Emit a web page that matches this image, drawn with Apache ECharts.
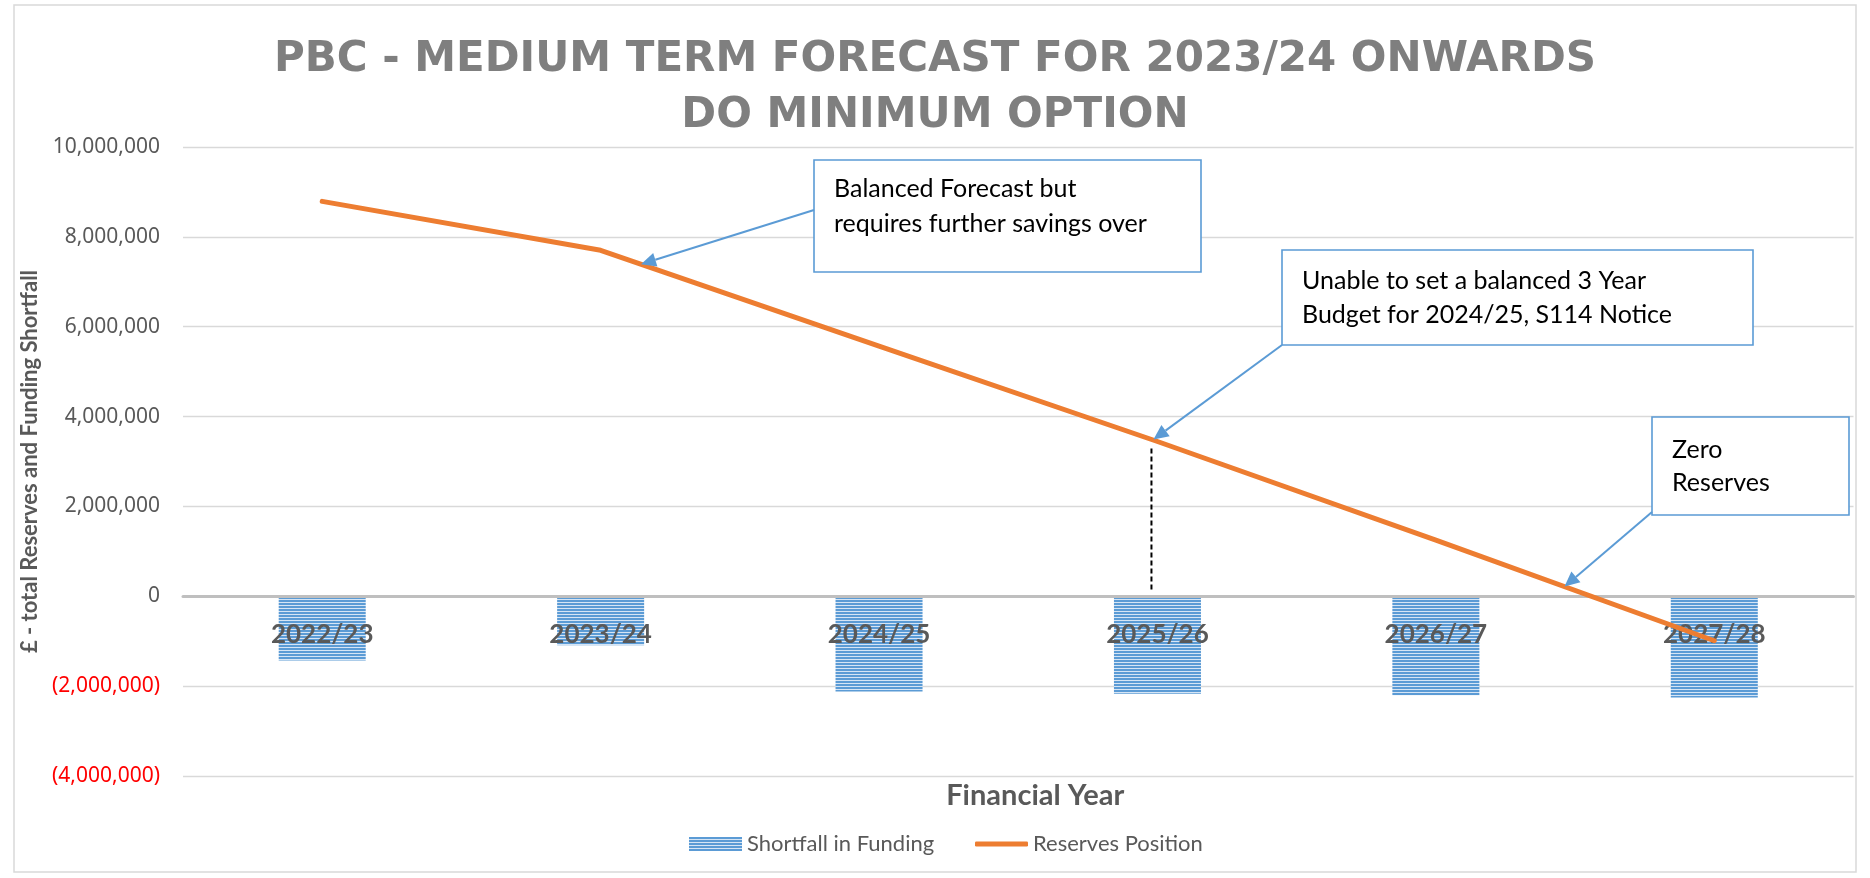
<!DOCTYPE html>
<html>
<head>
<meta charset="utf-8">
<script src="https://cdn.jsdelivr.net/npm/echarts@6/dist/echarts.min.js"></script>
<style>
html,body{margin:0;padding:0;background:#fff;}
#c{width:1870px;height:878px;}
</style>
</head>
<body>
<div id="c"></div>
<script>
// ---- data ----
const categories = ['2022/23', '2023/24', '2024/25', '2025/26', '2026/27', '2027/28'];
const shortfallInFunding = [-1430000, -1090000, -2120000, -2170000, -2200000, -2250000];
const reservesPosition = [8790000, 7700000, 5570000, 3445000, 1250000, -990000];
const yMin = -4000000, yMax = 10000000, yInterval = 2000000;
const titleLines = ['PBC - MEDIUM TERM FORECAST FOR 2023/24 ONWARDS', 'DO MINIMUM OPTION'];
const notes = [
  ['Balanced Forecast but', 'requires further savings over'],
  ['Unable to set a balanced 3 Year', 'Budget for 2024/25, S114 Notice'],
  ['Zero', 'Reserves']
];

// ---- layout ----
const W = 1870, H = 878;
const gridTop = 147, gridBottom = 102, gridLeft = 183, gridRight = 16.5;
const plotH = H - gridTop - gridBottom;
// category axis sits on the zero value line
const xAxisOffset = -((0 - yMin) / (yMax - yMin)) * plotH;

// ---- stripe pattern for bars ----
const pc = document.createElement('canvas');
pc.width = 4; pc.height = 3;
const pctx = pc.getContext('2d');
pctx.fillStyle = '#d6e5f5'; pctx.fillRect(0, 0, 4, 3);
pctx.fillStyle = '#5b9bd5'; pctx.fillRect(0, 0, 4, 2);
const stripe = { image: pc, repeat: 'repeat' };

function fmt(v) {
  const s = Math.abs(v).toLocaleString('en-US');
  return v < 0 ? '{n|(' + s + ')}' : s;
}

const legendText = { fontFamily: 'Lato', fontSize: 22, color: '#595959' };

const chart = echarts.init(document.getElementById('c'), null, { renderer: 'canvas' });
chart.setOption({
  animation: false,
  backgroundColor: '#ffffff',
  title: {
    text: titleLines.join('\n'),
    left: 'center',
    top: 27,
    textStyle: { fontFamily: 'DejaVu Sans', fontWeight: 'bold', fontSize: 42, lineHeight: 56, color: '#7f7f7f' }
  },
  legend: [
    {
      left: 689, top: 833, padding: 0,
      itemWidth: 53, itemHeight: 14,
      textStyle: legendText,
      data: [{ name: 'Shortfall in Funding', icon: 'rect' }]
    },
    {
      left: 975, top: 833, padding: 0,
      itemWidth: 53, itemHeight: 5,
      textStyle: legendText,
      data: [{ name: 'Reserves Position', icon: 'roundRect' }]
    }
  ],
  grid: {
    left: gridLeft, right: gridRight, top: gridTop, bottom: gridBottom,
    containLabel: false, outerBoundsMode: 'none'
  },
  xAxis: {
    type: 'category',
    data: categories,
    z: 3,
    offset: xAxisOffset,
    axisTick: { show: false },
    axisLine: { onZero: false, lineStyle: { color: '#bfbfbf', width: 3 } },
    axisLabel: { margin: 25, fontFamily: 'Lato', fontWeight: 'bold', fontSize: 26, color: '#595959' },
    name: 'Financial Year',
    nameLocation: 'middle',
    nameGap: 185,
    nameTextStyle: { fontFamily: 'Lato', fontWeight: 'bold', fontSize: 29, color: '#595959', padding: [0, 0, 0, 34] }
  },
  yAxis: {
    type: 'value',
    min: yMin, max: yMax, interval: yInterval,
    axisLine: { show: false },
    axisTick: { show: false },
    splitLine: { lineStyle: { color: '#d9d9d9', width: 1.3 } },
    axisLabel: {
      margin: 23, fontFamily: 'Noto Sans', fontSize: 21, color: '#595959',
      formatter: fmt,
      rich: { n: { color: '#ff0000', fontFamily: 'Noto Sans', fontSize: 21 } }
    },
    name: '£ - total Reserves and Funding Shortfall',
    nameLocation: 'middle',
    nameGap: 140,
    nameTextStyle: { fontFamily: 'Lato', fontWeight: 'bold', fontSize: 22, color: '#595959' }
  },
  series: [
    {
      name: 'Shortfall in Funding',
      type: 'bar',
      data: shortfallInFunding,
      barWidth: 87,
      z: 2,
      itemStyle: { color: stripe }
    },
    {
      name: 'Reserves Position',
      type: 'line',
      data: reservesPosition,
      z: 5,
      symbol: 'none',
      lineStyle: { color: '#ed7d31', width: 5, cap: 'round' },
      itemStyle: { color: '#ed7d31' }
    }
  ]
});

// ---- annotations anchored to the data through the axes ----
function pt(i, v) { return chart.convertToPixel({ gridIndex: 0 }, [i, v]); }
function along(i, t) {
  const a = pt(i, reservesPosition[i]), b = pt(i + 1, reservesPosition[i + 1]);
  return [a[0] + (b[0] - a[0]) * t, a[1] + (b[1] - a[1]) * t];
}
function arrow(from, tip) {
  const dx = tip[0] - from[0], dy = tip[1] - from[1];
  const L = Math.sqrt(dx * dx + dy * dy), ux = dx / L, uy = dy / L;
  const hl = 15, hw = 7;
  const bx = tip[0] - ux * hl, by = tip[1] - uy * hl;
  return [
    { type: 'line', z: 20, shape: { x1: from[0], y1: from[1], x2: bx, y2: by }, style: { stroke: '#5b9bd5', lineWidth: 2 } },
    { type: 'polygon', z: 20, shape: { points: [tip, [bx - uy * hw, by + ux * hw], [bx + uy * hw, by - ux * hw]] }, style: { fill: '#5b9bd5' } }
  ];
}
function box(x, y, w, h, lines, tx, ty, pitch) {
  const els = [{ type: 'rect', z: 18, shape: { x: x, y: y, width: w, height: h }, style: { fill: '#ffffff', stroke: '#5b9bd5', lineWidth: 1.6 } }];
  lines.forEach((s, k) => {
    els.push({ type: 'text', z: 19, x: tx, y: ty + k * pitch, style: { text: s, fill: '#000000', font: '25px Lato', textVerticalAlign: 'middle' } });
  });
  return els;
}

const zeroY = pt(0, 0)[1];
const p3 = pt(3, reservesPosition[3]);
const g = [];
g.push({ type: 'rect', z: -1, silent: true, shape: { x: 14, y: 5, width: 1842, height: 867 }, style: { fill: 'none', stroke: '#d9d9d9', lineWidth: 1.5 } });
// dashed marker under 2025/26
g.push({ type: 'line', z: 6, shape: { x1: p3[0] - 6, y1: p3[1] + 7, x2: p3[0] - 6, y2: zeroY - 5 }, style: { stroke: '#000000', lineWidth: 2, lineDash: [5, 3] } });
// callouts
g.push(...box(814, 160, 387, 112, notes[0], 834, 189, 35));
g.push(...arrow([814, 210], along(1, 0.145)));
g.push(...box(1282, 250, 471, 95, notes[1], 1302, 281, 34));
g.push(...arrow([1282, 345], [p3[0] - 4, p3[1] - 2]));
g.push(...box(1652, 417, 197, 98, notes[2], 1672, 450, 33));
g.push(...arrow([1652, 512], along(4, 0.462)));
chart.setOption({ graphic: g });
</script>
</body>
</html>
